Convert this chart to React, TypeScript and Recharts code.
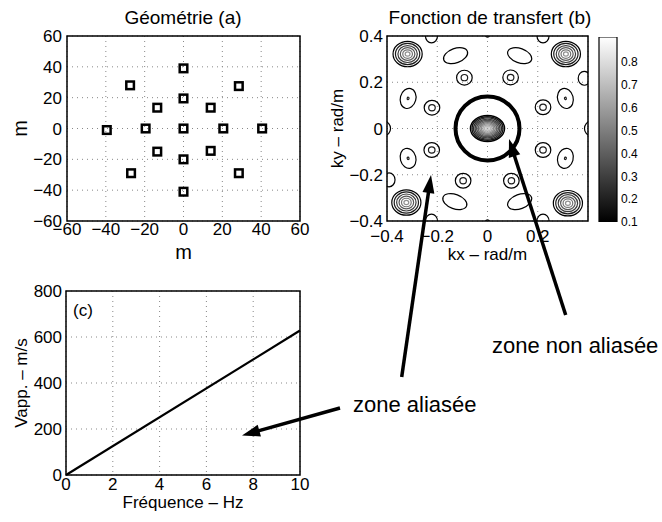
import React from "react"
import {
  ScatterChart,
  Scatter,
  LineChart,
  Line,
  BarChart,
  Bar,
  XAxis,
  YAxis,
  CartesianGrid,
  ReferenceArea,
  ReferenceDot,
} from "recharts"

const FONT = "'Liberation Sans', Arial, Helvetica, sans-serif"

// (a) geometrie du reseau (m)
const stationX = [0, 0, 0, -19.5, 20.5, -13.5, 14, -13.5, 14, 0, 0, -39.5, 40.5, -27.5, 28.5, -27, 28.5]
const stationY = [0, 19.5, -20, 0, 0, 13.5, 13.5, -15, -14.5, 39, -41, -1, 0, 28, 27.5, -29, -29]
const geoTicks = [-60, -40, -20, 0, 20, 40, 60]

// (b) lobes de la fonction de transfert, [kx, ky] en rad/m
const mainLobe = [[0, 0]]
const cornerLobes = [[-0.318, 0.322], [0.312, 0.322], [-0.323, -0.32], [0.32, -0.323]]
const beanLobes = [[-0.127, 0.315], [0.128, 0.315], [-0.13, -0.316], [0.128, -0.316]]
const eggLobes = [[-0.316, 0.13], [0.31, 0.13], [-0.316, -0.129], [0.31, -0.129]]
const ringLobes = [
  [-0.092, 0.22], [0.092, 0.221], [-0.221, 0.09], [0.221, 0.092],
  [-0.222, -0.093], [0.221, -0.093], [-0.097, -0.226], [0.095, -0.226],
]
const edgeLobes = [
  [-0.223, 0.4], [0.221, 0.4], [-0.223, -0.4], [0.221, -0.4],
  [-0.41, 0], [0.41, 0], [0.385, 0.217], [-0.392, -0.222],
]
const tinyLobes = [[0, 0.405], [0, -0.405]]
const kTicksX = [-0.4, -0.2, 0, 0.2]
const kTicksY = [-0.4, -0.2, 0, 0.2, 0.4]

// colorbar
const cbarMin = 0.1
const cbarMax = 0.91
const cbarTicks = [0.1, 0.2, 0.3, 0.4, 0.5, 0.6, 0.7, 0.8]

// (c) vitesse apparente
const freqHz = [0, 10]
const vappMs = [0, 628]
const freqTicks = [0, 2, 4, 6, 8, 10]
const vappTicks = [0, 200, 400, 600, 800]

// plot area of (b) in px
const PLOT_B_W = 201
const PLOT_B_H = 185
const PX_PER_KX = PLOT_B_W / 0.8
const PX_PER_KY = PLOT_B_H / 0.8

const minus = (v: number) => String(v).replace("-", "\u2212")
const toPoints = (arr: number[][]) => arr.map(([x, y]) => ({ x, y }))

const tickStyle = { fontSize: 17, fill: "#000" }

const levelColor = (i: number, step: number) => {
  const level = 0.1 + step * i
  const g = Math.round(Math.min(1, (level - cbarMin) / (cbarMax - cbarMin)) * 235)
  return `rgb(${g},${g},${g})`
}

type LobeStyle = { rx: number; ry: number; scales: number[]; tilt?: number; width?: number; step?: number }

const linearScales = (n: number) => Array.from({ length: n }, (_, i) => 1 - i / n)

function lobeShape(style: LobeStyle) {
  return (props: any) => {
    const { cx, cy, payload } = props
    const rot = style.tilt ? style.tilt * Math.sign(payload.x * payload.y) : 0
    return (
      <g transform={`rotate(${rot} ${cx} ${cy})`}>
        {style.scales.map((s, i) => (
          <ellipse
            key={i}
            cx={cx}
            cy={cy}
            rx={style.rx * PX_PER_KX * s}
            ry={style.ry * PX_PER_KY * s}
            fill="none"
            stroke={levelColor(i, style.step ?? 0.1)}
            strokeWidth={style.width ?? 1.2}
          />
        ))}
      </g>
    )
  }
}

const mainStyle: LobeStyle = { rx: 0.068, ry: 0.056, scales: linearScales(11), width: 1.4, step: 0.07 }
const cornerStyle: LobeStyle = { rx: 0.058, ry: 0.055, scales: linearScales(6) }
const beanStyle: LobeStyle = { rx: 0.05, ry: 0.031, scales: [1], tilt: 20 }
const eggStyle: LobeStyle = { rx: 0.031, ry: 0.044, scales: [1, 0.12], tilt: -15 }
const ringStyle: LobeStyle = { rx: 0.031, ry: 0.032, scales: [1, 0.42] }
const edgeStyle: LobeStyle = { rx: 0.024, ry: 0.03, scales: [1] }
const tinyStyle: LobeStyle = { rx: 0.008, ry: 0.01, scales: [1] }

const SquareMarker = (props: any) => {
  const { cx, cy } = props
  return <rect x={cx - 3.8} y={cy - 3.8} width={7.6} height={7.6} fill="none" stroke="#000" strokeWidth={2.5} />
}

function Arrow({ from, to }: { from: number[]; to: number[] }) {
  const [x1, y1] = from
  const [x2, y2] = to
  const len = Math.hypot(x2 - x1, y2 - y1)
  const ux = (x2 - x1) / len
  const uy = (y2 - y1) / len
  const head = 18
  const half = 6
  const bx = x2 - ux * head
  const by = y2 - uy * head
  return (
    <g>
      <line x1={x1} y1={y1} x2={bx + ux * 2} y2={by + uy * 2} stroke="#000" strokeWidth={3.5} />
      <polygon
        points={`${x2},${y2} ${bx - uy * half},${by + ux * half} ${bx + uy * half},${by - ux * half}`}
        fill="#000"
      />
    </g>
  )
}

const annotationArrows = [
  { from: [401.7, 377], to: [431, 175] },
  { from: [565.7, 315], to: [509, 139] },
  { from: [340, 408], to: [242, 435.5] },
]

export default function App() {
  const stations = stationX.map((x, i) => ({ x, y: stationY[i] }))
  const vappData = freqHz.map((f, i) => ({ f, v: vappMs[i] }))

  return (
    <div style={{ position: "absolute", left: 0, top: 0, width: 662, height: 522, background: "#fff", fontFamily: FONT }}>
      {/* (a) */}
      <div style={{ position: "absolute", left: 0, top: 0 }}>
        <ScatterChart width={330} height={275} margin={{ top: 36, right: 30, bottom: 14, left: 17 }}>
          <CartesianGrid stroke="#888" strokeDasharray="1 4" />
          <XAxis
            type="number"
            dataKey="x"
            domain={[-60, 60]}
            ticks={geoTicks}
            interval={0}
            height={40}
            axisLine={false}
            tickLine={false}
            tickSize={0}
            tickMargin={2}
            tick={tickStyle}
            tickFormatter={minus}
            label={{ value: "m", position: "insideBottom", offset: 2, fontSize: 20, fill: "#000" }}
          />
          <YAxis
            type="number"
            dataKey="y"
            domain={[-60, 60]}
            ticks={geoTicks}
            interval={0}
            width={50}
            axisLine={false}
            tickLine={false}
            tickSize={0}
            tickMargin={5}
            tick={tickStyle}
            tickFormatter={minus}
            label={{ value: "m", angle: -90, position: "insideLeft", offset: 3, fontSize: 20, fill: "#000", style: { textAnchor: "middle" } }}
          />
          <ReferenceArea x1={-60} x2={60} y1={-60} y2={60} fill="none" stroke="#000" strokeWidth={1.5} />
          <Scatter data={stations} shape={SquareMarker} isAnimationActive={false} />
        </ScatterChart>
      </div>

      {/* (b) */}
      <div style={{ position: "absolute", left: 320, top: 0 }}>
        <ScatterChart width={280} height={275} margin={{ top: 36, right: 12, bottom: 14, left: 17 }}>
          <CartesianGrid stroke="#888" strokeDasharray="1 4" />
          <XAxis
            type="number"
            dataKey="x"
            domain={[-0.4, 0.4]}
            allowDataOverflow
            ticks={kTicksX}
            interval={0}
            height={40}
            axisLine={false}
            tickLine={false}
            tickSize={0}
            tickMargin={9}
            tick={tickStyle}
            tickFormatter={minus}
            label={{ value: "kx \u2013 rad/m", position: "insideBottom", offset: 1, fontSize: 17, fill: "#000" }}
          />
          <YAxis
            type="number"
            dataKey="y"
            domain={[-0.4, 0.4]}
            allowDataOverflow
            ticks={kTicksY}
            interval={0}
            width={50}
            axisLine={false}
            tickLine={false}
            tickSize={0}
            tickMargin={4}
            tick={tickStyle}
            tickFormatter={minus}
            label={{ value: "ky \u2013 rad/m", angle: -90, position: "insideLeft", offset: 0, fontSize: 17, fill: "#000", style: { textAnchor: "middle" } }}
          />
          <Scatter data={toPoints(edgeLobes)} shape={lobeShape(edgeStyle)} isAnimationActive={false} />
          <Scatter data={toPoints(tinyLobes)} shape={lobeShape(tinyStyle)} isAnimationActive={false} />
          <Scatter data={toPoints(ringLobes)} shape={lobeShape(ringStyle)} isAnimationActive={false} />
          <Scatter data={toPoints(eggLobes)} shape={lobeShape(eggStyle)} isAnimationActive={false} />
          <Scatter data={toPoints(beanLobes)} shape={lobeShape(beanStyle)} isAnimationActive={false} />
          <Scatter data={toPoints(cornerLobes)} shape={lobeShape(cornerStyle)} isAnimationActive={false} />
          <Scatter data={toPoints(mainLobe)} shape={lobeShape(mainStyle)} isAnimationActive={false} />
          <ReferenceArea x1={-0.4} x2={0.4} y1={-0.4} y2={0.4} fill="none" stroke="#000" strokeWidth={1.5} />
          <ReferenceDot x={0} y={0} r={32} fill="none" stroke="#000" strokeWidth={4} />
        </ScatterChart>
      </div>

      {/* colorbar */}
      <div style={{ position: "absolute", left: 590, top: 0 }}>
        <BarChart
          width={72}
          height={262}
          data={[{ name: "cb", range: [cbarMin, cbarMax] }]}
          margin={{ top: 37, right: 5, bottom: 40, left: 9 }}
          barCategoryGap={0}
        >
          <defs>
            <linearGradient id="grayMap" x1="0" y1="1" x2="0" y2="0">
              <stop offset="0" stopColor="#000" />
              <stop offset="1" stopColor="#fff" />
            </linearGradient>
          </defs>
          <XAxis dataKey="name" hide />
          <YAxis
            orientation="right"
            type="number"
            domain={[cbarMin, cbarMax]}
            allowDataOverflow
            ticks={cbarTicks}
            interval={0}
            width={40}
            axisLine={false}
            tickLine={false}
            tickSize={0}
            tickMargin={4}
            tick={{ fontSize: 12, fill: "#000" }}
          />
          <Bar dataKey="range" fill="url(#grayMap)" stroke="#000" strokeWidth={1.2} isAnimationActive={false} />
        </BarChart>
      </div>

      {/* (c) */}
      <div style={{ position: "absolute", left: 0, top: 260 }}>
        <LineChart width={330} height={262} data={vappData} margin={{ top: 31, right: 30, bottom: 7, left: 16 }}>
          <CartesianGrid stroke="#888" strokeDasharray="1 4" />
          <XAxis
            type="number"
            dataKey="f"
            domain={[0, 10]}
            ticks={freqTicks}
            interval={0}
            height={40}
            axisLine={false}
            tickLine={false}
            tickSize={0}
            tickMargin={3}
            tick={tickStyle}
            label={{ value: "Fr\u00e9quence \u2013 Hz", position: "insideBottom", offset: 7, fontSize: 17, fill: "#000" }}
          />
          <YAxis
            type="number"
            domain={[0, 800]}
            ticks={vappTicks}
            interval={0}
            width={50}
            axisLine={false}
            tickLine={false}
            tickSize={0}
            tickMargin={4}
            tick={tickStyle}
            label={{ value: "Vapp. \u2013 m/s", angle: -90, position: "insideLeft", offset: 5, fontSize: 17, fill: "#000", style: { textAnchor: "middle" } }}
          />
          <ReferenceArea x1={0} x2={10} y1={0} y2={800} fill="none" stroke="#000" strokeWidth={1.5} />
          <Line type="linear" dataKey="v" stroke="#000" strokeWidth={2.2} dot={false} isAnimationActive={false} />
        </LineChart>
      </div>

      {/* titles and annotations */}
      <svg width={662} height={522} style={{ position: "absolute", left: 0, top: 0, pointerEvents: "none" }}>
        <text x={183} y={24} textAnchor="middle" fontSize={19} fill="#000">{"G\u00e9om\u00e9trie (a)"}</text>
        <text x={490} y={24} textAnchor="middle" fontSize={19} fill="#000">{"Fonction de transfert (b)"}</text>
        <text x={73} y={316} fontSize={17} fill="#000">{"(c)"}</text>
        <text x={492} y={353} fontSize={22} fill="#000">{"zone non alias\u00e9e"}</text>
        <text x={353} y={412} fontSize={22} fill="#000">{"zone alias\u00e9e"}</text>
        {annotationArrows.map((a, i) => (
          <Arrow key={i} from={a.from} to={a.to} />
        ))}
      </svg>
    </div>
  )
}
